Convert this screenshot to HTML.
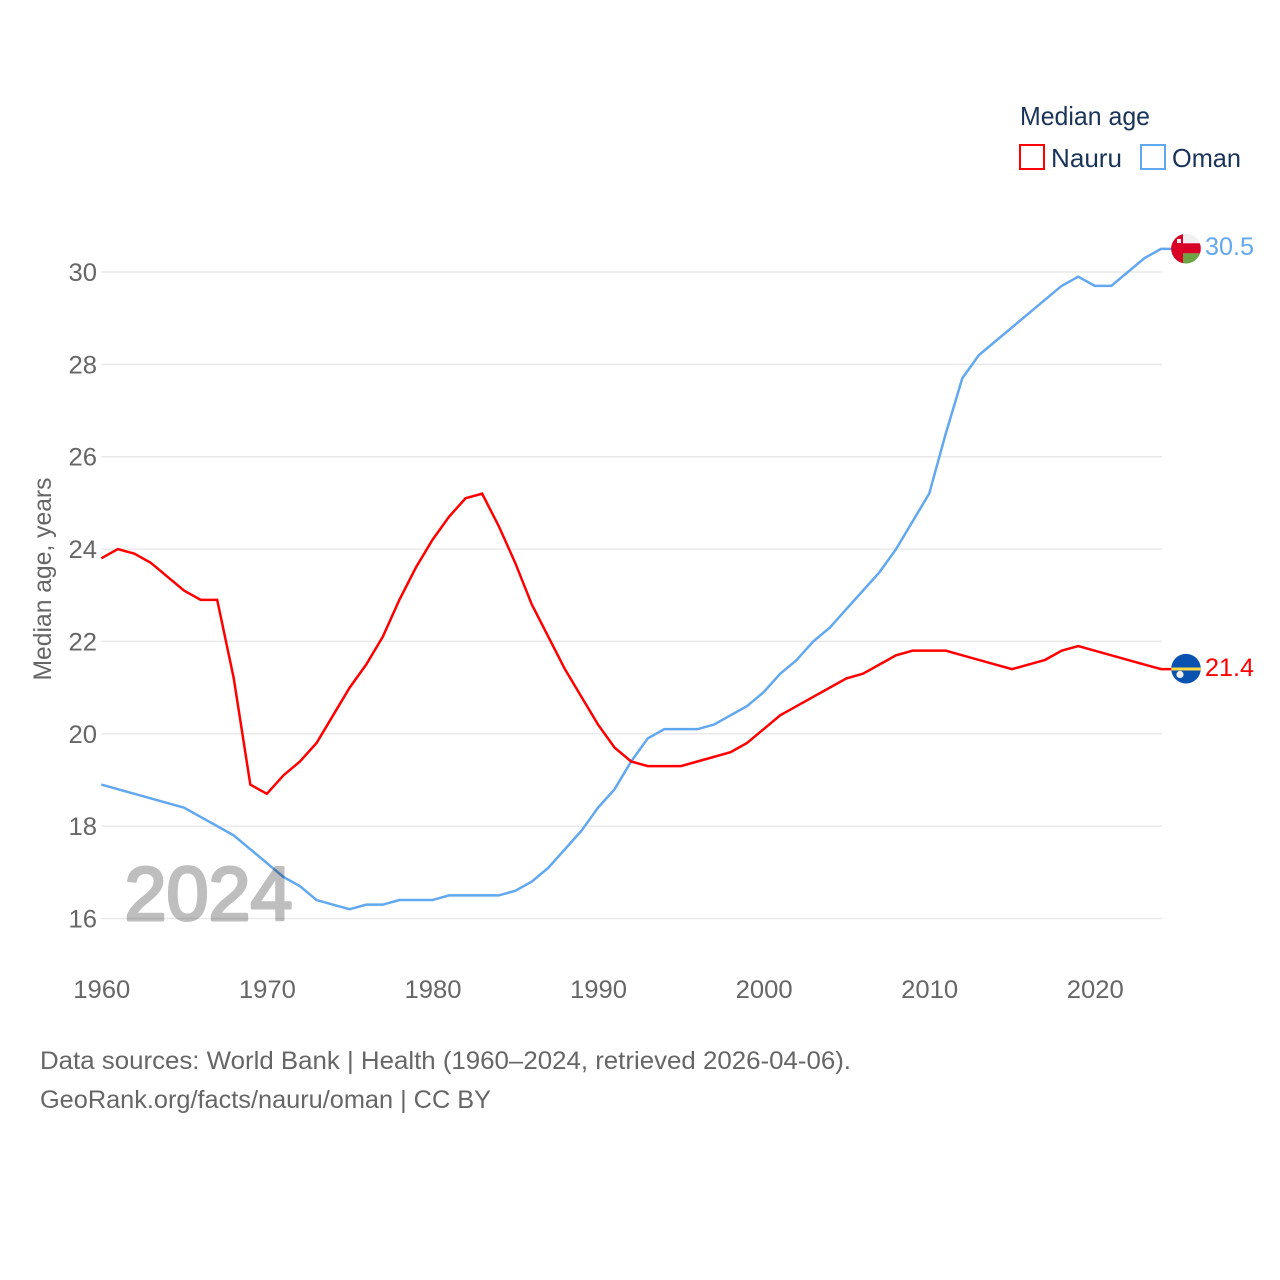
<!DOCTYPE html>
<html lang="en">
<head>
<meta charset="utf-8">
<title>Median age: Nauru and Oman</title>
<style>
html,body{margin:0;padding:0;background:#fff;width:1280px;height:1280px;overflow:hidden}
svg{display:block;font-family:"Liberation Sans",sans-serif}
</style>
</head>
<body>
<svg id="chart" width="1280" height="1280" viewBox="0 0 1280 1280" xmlns="http://www.w3.org/2000/svg">
  <defs>
    <clipPath id="oman-clip"><circle cx="1186" cy="248.7" r="14.8"/></clipPath>
    <clipPath id="nauru-clip"><circle cx="1186" cy="668.7" r="14.8"/></clipPath>
  </defs>
  <g id="grid"></g>
  <g id="y-ticks"></g>
  <g id="x-ticks"></g>
  <text transform="translate(51 579) rotate(-90)" text-anchor="middle" font-size="25" fill="#666" textLength="203" lengthAdjust="spacingAndGlyphs">Median age, years</text>
  <g id="series"></g>
  <text x="124.5" y="920" font-size="76" font-weight="400" fill="#000" stroke="#000" stroke-width="3" stroke-linejoin="round" opacity="0.25" textLength="168" lengthAdjust="spacingAndGlyphs">2024</text>

  <g>
    <text x="1020" y="125" font-size="26" fill="#1a3358" textLength="130" lengthAdjust="spacingAndGlyphs">Median age</text>
    <g>
      <rect x="1020" y="145" width="24" height="24" fill="none" stroke="#ff0000" stroke-width="2"/>
      <text x="1051" y="167" font-size="26" fill="#1a3358" textLength="71" lengthAdjust="spacingAndGlyphs">Nauru</text>
    </g>
    <g>
      <rect x="1141" y="145" width="24" height="24" fill="none" stroke="#62a8f0" stroke-width="2"/>
      <text x="1172" y="167" font-size="26" fill="#1a3358" textLength="69" lengthAdjust="spacingAndGlyphs">Oman</text>
    </g>
  </g>

  <g clip-path="url(#oman-clip)">
    <rect x="1171" y="233" width="30" height="32" fill="#f0f0f0"/>
    <rect x="1171" y="253.3" width="30" height="12" fill="#6da544"/>
    <rect x="1171" y="243.3" width="30" height="10" fill="#d80027"/>
    <rect x="1171" y="233" width="12" height="32" fill="#d80027"/>
    <rect x="1177" y="239" width="4" height="4" fill="#f0f0f0"/>
  </g>
  <g clip-path="url(#nauru-clip)">
    <rect x="1171" y="653" width="30" height="32" fill="#0a52b0"/>
    <rect x="1171" y="667.5" width="30" height="3" fill="#ffda44"/>
    <circle cx="1180" cy="674.5" r="3.6" fill="#f0f0f0"/>
  </g>
  <text x="1205" y="255" font-size="25" fill="#62a8f0" textLength="49" lengthAdjust="spacingAndGlyphs">30.5</text>
  <text x="1205" y="676" font-size="25" fill="#ff0000" textLength="49" lengthAdjust="spacingAndGlyphs">21.4</text>

  <text x="40" y="1069" font-size="25" fill="#666" textLength="811" lengthAdjust="spacingAndGlyphs">Data sources: World Bank | Health (1960–2024, retrieved 2026-04-06).</text>
  <text x="40" y="1108" font-size="25" fill="#666" textLength="451" lengthAdjust="spacingAndGlyphs">GeoRank.org/facts/nauru/oman | CC BY</text>
</svg>
<script>
var startYear = 1960;
var nauruValues = [23.8,24.0,23.9,23.7,23.4,23.1,22.9,22.9,21.2,18.9,18.7,19.1,19.4,19.8,20.4,21.0,21.5,22.1,22.9,23.6,24.2,24.7,25.1,25.2,24.5,23.7,22.8,22.1,21.4,20.8,20.2,19.7,19.4,19.3,19.3,19.3,19.4,19.5,19.6,19.8,20.1,20.4,20.6,20.8,21.0,21.2,21.3,21.5,21.7,21.8,21.8,21.8,21.7,21.6,21.5,21.4,21.5,21.6,21.8,21.9,21.8,21.7,21.6,21.5,21.4];
var omanValues = [18.9,18.8,18.7,18.6,18.5,18.4,18.2,18.0,17.8,17.5,17.2,16.9,16.7,16.4,16.3,16.2,16.3,16.3,16.4,16.4,16.4,16.5,16.5,16.5,16.5,16.6,16.8,17.1,17.5,17.9,18.4,18.8,19.4,19.9,20.1,20.1,20.1,20.2,20.4,20.6,20.9,21.3,21.6,22.0,22.3,22.7,23.1,23.5,24.0,24.6,25.2,26.5,27.7,28.2,28.5,28.8,29.1,29.4,29.7,29.9,29.7,29.7,30.0,30.3,30.5];
var yTickValues = [16,18,20,22,24,26,28,30];
var xTickValues = [1960,1970,1980,1990,2000,2010,2020];

var NS = 'http://www.w3.org/2000/svg';
function xScale(year){ return 101.3 + (year - 1960) * (1161 - 101.3) / 64; }
function yScale(v){ return 918.5 - (v - 16) * (918.5 - 272) / 14; }

var gridGroup = document.getElementById('grid');
var yGroup = document.getElementById('y-ticks');
var xGroup = document.getElementById('x-ticks');
var seriesGroup = document.getElementById('series');

yTickValues.forEach(function(v){
  var line = document.createElementNS(NS, 'line');
  
  
  line.setAttribute('x1', 101.5);
  line.setAttribute('x2', 1162);
  line.setAttribute('y1', yScale(v));
  line.setAttribute('y2', yScale(v));
  line.setAttribute('stroke', '#e9e9e9');
  line.setAttribute('stroke-width', 1.5);
  gridGroup.appendChild(line);

  var label = document.createElementNS(NS, 'text');
  
  
  label.setAttribute('x', 97);
  label.setAttribute('y', yScale(v) + 9);
  label.setAttribute('text-anchor', 'end');
  label.setAttribute('font-size', 25);
  label.setAttribute('fill', '#666');
  label.setAttribute('textLength', 28.5);
  label.setAttribute('lengthAdjust', 'spacingAndGlyphs');
  label.textContent = v;
  yGroup.appendChild(label);
});

xTickValues.forEach(function(y){
  var label = document.createElementNS(NS, 'text');
  
  
  label.setAttribute('x', xScale(y) + 0.5);
  label.setAttribute('y', 998);
  label.setAttribute('text-anchor', 'middle');
  label.setAttribute('font-size', 25);
  label.setAttribute('fill', '#666');
  label.setAttribute('textLength', 57);
  label.setAttribute('lengthAdjust', 'spacingAndGlyphs');
  label.textContent = y;
  xGroup.appendChild(label);
});

function pathFor(values){
  var d = values.map(function(v, i){
    return (i ? 'L' : 'M') + xScale(startYear + i).toFixed(2) + ' ' + yScale(v).toFixed(2);
  }).join(' ');
  return d + ' L1172 ' + yScale(values[values.length - 1]).toFixed(2);
}

var omanLine = document.createElementNS(NS, 'path');


omanLine.setAttribute('d', pathFor(omanValues));
omanLine.setAttribute('fill', 'none');
omanLine.setAttribute('stroke', '#62a8f0');
omanLine.setAttribute('stroke-width', 2.5);
seriesGroup.appendChild(omanLine);

var nauruLine = document.createElementNS(NS, 'path');


nauruLine.setAttribute('d', pathFor(nauruValues));
nauruLine.setAttribute('fill', 'none');
nauruLine.setAttribute('stroke', '#ff0000');
nauruLine.setAttribute('stroke-width', 2.5);
seriesGroup.appendChild(nauruLine);
</script>
</body>
</html>
